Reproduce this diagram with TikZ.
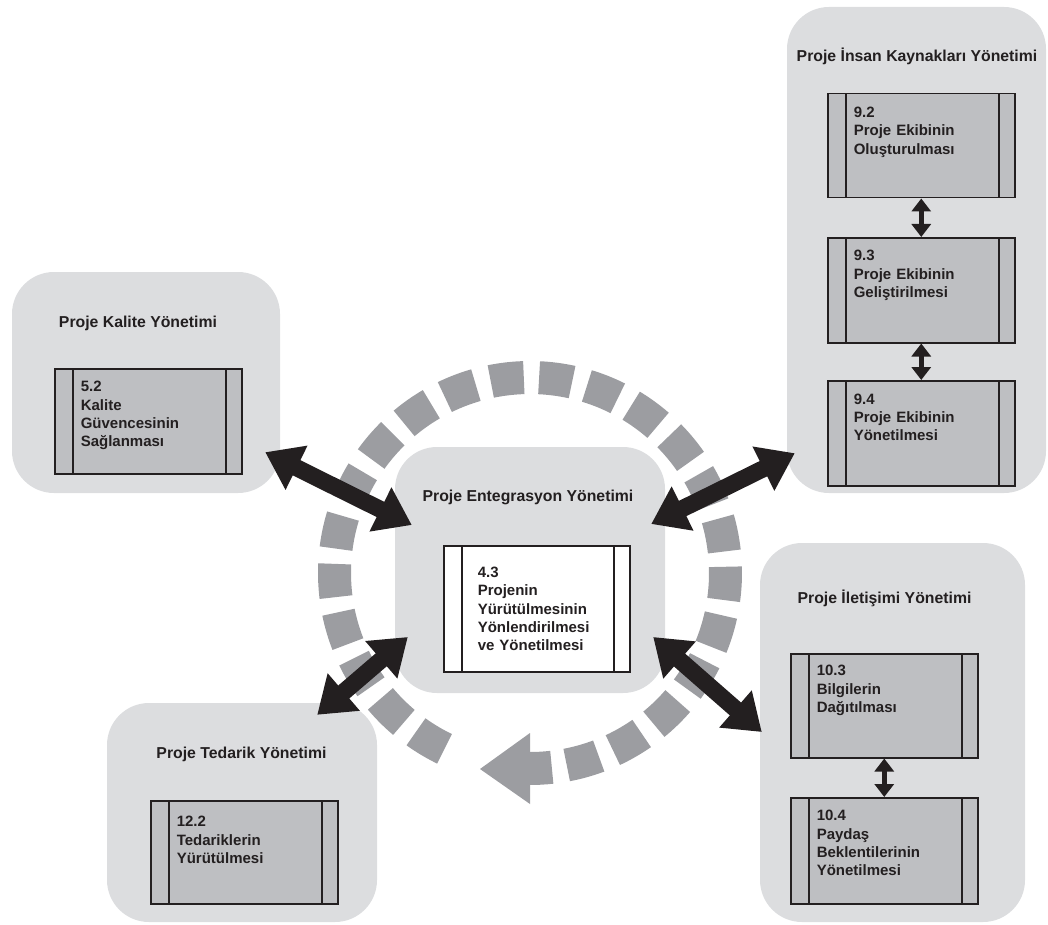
\documentclass[tikz,border=0pt]{standalone}
\usepackage{fontspec}
\setmainfont{Liberation Sans}
\usetikzlibrary{arrows.meta}
\definecolor{panel}{HTML}{DCDDDF}
\definecolor{procfill}{HTML}{BEBFC2}
\definecolor{ringgray}{HTML}{9C9DA1}
\definecolor{ink}{HTML}{231F20}

\tikzset{
  area/.style={rectangle, rounded corners=42pt, fill=panel, inner sep=0pt},
  areatitle/.style={anchor=base, inner sep=0pt, text=ink,
    font=\fontsize{15.8}{19}\selectfont\bfseries},
  proc/.style={rectangle, draw=ink, line width=1.5pt, fill=procfill,
    anchor=north west, inner xsep=26pt, inner ysep=0pt, text width=135pt,
    text height=23pt, align=left, text=ink,
    font=\fontsize{15}{18.3}\selectfont\bfseries,
    path picture={
      \draw[ink, line width=1.5pt]
        ([xshift=18pt]path picture bounding box.north west) --
        ([xshift=18pt]path picture bounding box.south west);
      \draw[ink, line width=1.5pt]
        ([xshift=-16pt]path picture bounding box.north east) --
        ([xshift=-16pt]path picture bounding box.south east);}},
  bigarrow/.style={draw=ink, line width=17pt,
    {Triangle[length=35pt,width=47pt]}-{Triangle[length=35pt,width=47pt]}},
  smallarrow/.style={draw=ink, line width=5.5pt,
    {Triangle[length=13pt,width=19pt]}-{Triangle[length=13pt,width=19pt]}},
  ringdash/.style={draw=ringgray, line width=33pt},
}

\begin{document}
\begin{tikzpicture}[x=1pt, y=-1pt]
\useasboundingbox (0,0) rectangle (1048,925);

% knowledge-area panels
\node[area, minimum width=268pt, minimum height=221pt] (kal) at (146,382.5) {};
\node[area, minimum width=270pt, minimum height=246pt] (cen) at (530,570) {};
\node[area, minimum width=259pt, minimum height=486pt] (hr)  at (916.5,250) {};
\node[area, minimum width=265pt, minimum height=379pt] (com) at (892.5,732.5) {};
\node[area, minimum width=270pt, minimum height=219pt] (ted) at (242,812.5) {};

% panel titles
\node[areatitle] (tk) at (138,327)   {Proje Kalite Yönetimi};
\node[areatitle] (te) at (528,501)   {Proje Entegrasyon Yönetimi};
\node[areatitle] (th) at (917,61.5)  {Proje İnsan Kaynakları Yönetimi};
\node[areatitle] (tc) at (884.5,603) {Proje İletişimi Yönetimi};
\node[areatitle] (tt) at (241.5,758) {Proje Tedarik Yönetimi};

% processes
\node[proc, text depth=82pt] (p52) at (54,368)
  {5.2\\Kalite\\Güvencesinin\\Sağlanması};
\node[proc, fill=white, inner xsep=34pt, text width=118pt,
      text height=31.7pt, text depth=94.3pt] (p43) at (443,545)
  {4.3\\Projenin\\Yürütülmesinin\\Yönlendirilmesi\\ve Yönetilmesi};
\node[proc, text height=23.7pt, text depth=80.3pt] (p92) at (827,93)
  {9.2\\Proje Ekibinin\\Oluşturulması};
\node[proc, text depth=82pt] (p93) at (827,237)
  {9.3\\Proje Ekibinin\\Geliştirilmesi};
\node[proc, text height=23.3pt, text depth=81.7pt] (p94) at (827,380)
  {9.4\\Proje Ekibinin\\Yönetilmesi};
\node[proc, text height=22pt, text depth=82pt] (p103) at (790,653)
  {10.3\\Bilgilerin\\Dağıtılması};
\node[proc, text depth=83pt] (p104) at (790,797)
  {10.4\\Paydaş\\Beklentilerinin\\Yönetilmesi};
\node[proc, text height=26pt, text depth=77pt] (p122) at (150,800)
  {12.2\\Tedariklerin\\Yürütülmesi};

% links between processes
\draw[smallarrow] (p92) -- (p93);
\draw[smallarrow] (p93) -- (p94);
\draw[smallarrow] (p103) -- (p104);

% circular dashed cycle with its arrowhead
\begin{scope}[shift={(530,573)}, x=1pt, y=1pt]
  \foreach \k in {0,...,22} {
    \pgfmathsetmacro\sa{244.08-14.25*\k}
    \pgfmathsetmacro\ea{\sa-9.76}
    \draw[ringdash] (\sa:195.5) arc[start angle=\sa, end angle=\ea, radius=195.5];
  }
  \draw[ringdash] (-83.6:195.5) arc[start angle=-83.6, end angle=-90.5, radius=195.5];
  \fill[ringgray] (-90:160) -- (-90:231) -- (-50,-196) -- cycle;
\end{scope}

% integration links
\draw[bigarrow] ([shift={(-15,-41)}]kal.south east) -- ([shift={(17,-45)}]cen.west);
\draw[bigarrow] ([shift={(-14,-46)}]cen.east) -- ([shift={(8,-40)}]hr.south west);
\draw[bigarrow] ([shift={(13,67)}]cen.west) -- ([shift={(-60,12)}]ted.north east);
\draw[bigarrow] ([shift={(-12,67)}]cen.east) -- ([shift={(2,-0.5)}]com.west);
\end{tikzpicture}
\end{document}
